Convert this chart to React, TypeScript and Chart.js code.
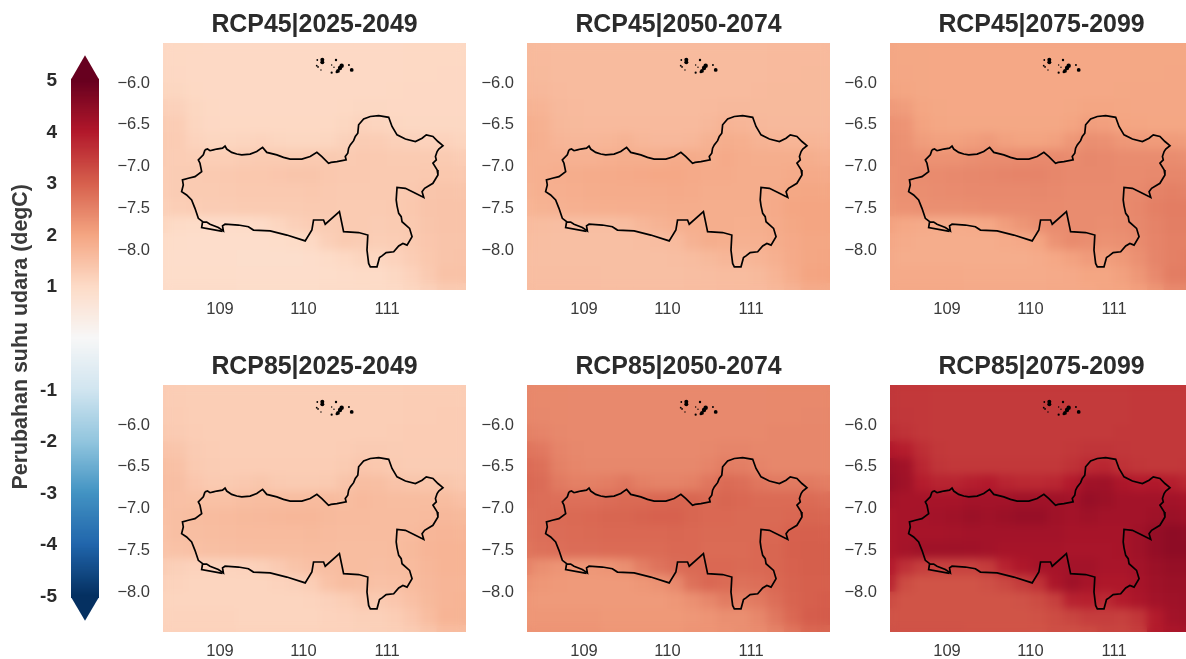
import { useEffect, useRef } from "react";
import { Chart, registerables } from "chart.js";
Chart.register(...registerables);

const panelTitles = ["RCP45|2025-2049", "RCP45|2050-2074", "RCP45|2075-2099", "RCP85|2025-2049", "RCP85|2050-2074", "RCP85|2075-2099"];
const xTicks = [109, 110, 111];
const yTicks = [-6, -6.5, -7, -7.5, -8];
const barTicks = [-5, -4, -3, -2, -1, 1, 2, 3, 4, 5];
const barTitle = "Perubahan suhu udara (degC)";
const rdbu = ["#053061", "#2166ac", "#4393c3", "#92c5de", "#d1e5f0", "#f7f7f7", "#fddbc7", "#f4a582", "#d6604d", "#b2182b", "#67001f"];

const gridLons = [108.3, 108.5, 108.7, 108.9, 109.1, 109.3, 109.5, 109.7, 109.9, 110.1, 110.3, 110.5, 110.7, 110.9, 111.1, 111.3, 111.5, 111.7, 111.9];
const gridLats = [-5.5, -5.7, -5.9, -6.1, -6.3, -6.5, -6.7, -6.9, -7.1, -7.3, -7.5, -7.7, -7.9, -8.1, -8.3, -8.5];

// change in hundredths of a degree, one row per latitude
const rcp45a = [
[105,104,104,103,103,103,103,103,103,103,103,103,103,103,103,104,104,104,104],
[105,104,103,103,103,103,103,103,103,103,103,103,103,103,103,104,104,104,104],
[106,105,103,103,103,103,103,103,103,103,103,103,103,103,103,104,104,105,105],
[110,108,104,103,103,103,103,103,103,103,103,103,103,103,104,105,105,105,105],
[120,118,108,104,103,103,103,103,103,103,103,104,106,106,105,105,105,105,105],
[128,126,110,105,104,104,104,104,104,104,104,108,114,112,108,106,106,106,106],
[130,127,114,110,110,112,115,110,108,108,110,118,128,126,120,118,116,116,112],
[128,126,124,124,124,128,130,130,130,132,132,130,134,132,130,130,130,130,126],
[126,128,130,132,134,136,136,138,140,140,136,134,134,132,132,132,134,136,134],
[124,128,130,130,132,134,134,134,134,136,134,132,132,132,132,134,140,142,140],
[120,124,126,128,128,130,130,130,130,132,132,130,130,130,132,136,142,144,144],
[108,100,98,96,96,98,100,110,120,126,128,130,130,128,130,134,140,144,144],
[98,94,92,92,92,92,92,94,98,104,122,130,128,124,126,132,138,142,142],
[94,92,92,92,92,90,90,90,90,92,98,104,112,110,116,126,136,142,144],
[94,94,94,94,94,92,92,92,92,92,94,96,100,100,106,116,132,146,146],
[96,96,96,96,96,94,94,94,94,94,96,96,98,100,102,108,118,130,130],
];
const rcp45b = [
[162,161,160,160,160,160,160,160,160,160,160,160,160,160,160,161,161,161,161],
[162,161,160,160,160,160,160,160,160,160,160,160,160,160,160,161,161,161,161],
[163,162,160,160,160,160,160,160,160,160,160,160,160,160,160,161,161,162,162],
[166,164,161,160,160,160,160,160,160,160,160,160,160,160,161,162,162,162,162],
[174,172,163,161,160,160,160,160,160,160,160,161,163,163,162,162,162,162,162],
[182,178,165,162,161,161,161,161,161,161,161,164,172,170,164,163,163,163,163],
[184,180,170,166,166,169,174,166,164,164,166,176,184,182,174,172,171,171,168],
[180,178,177,177,177,181,184,184,184,188,188,184,190,186,184,184,184,184,180],
[177,179,183,185,187,189,190,192,194,194,190,188,188,186,186,186,188,190,188],
[175,179,181,183,185,187,187,187,188,190,188,186,186,186,186,188,195,197,195],
[171,175,177,179,181,182,183,183,184,186,186,184,184,184,186,190,198,200,200],
[160,156,154,153,153,154,156,166,174,180,182,184,184,182,184,188,195,200,200],
[156,153,152,152,152,152,152,153,155,160,176,184,182,178,180,186,192,197,197],
[154,152,152,152,152,152,152,152,152,153,156,162,168,166,172,180,190,197,199],
[154,154,154,154,154,152,152,152,152,152,153,155,158,158,162,172,187,200,201],
[155,155,155,155,155,153,153,153,153,153,155,155,157,158,160,165,174,188,188],
];
const rcp45c = [
[196,195,195,194,194,194,194,194,194,194,194,194,194,194,194,195,195,195,195],
[196,195,195,194,194,194,194,194,194,194,194,194,194,194,194,195,195,195,195],
[197,196,195,194,194,194,194,194,194,194,194,194,194,194,194,195,195,196,196],
[202,199,195,194,194,194,194,194,194,194,194,194,194,194,195,196,196,196,196],
[216,212,199,195,194,194,194,194,194,194,194,195,198,198,197,196,196,196,196],
[228,224,203,197,195,195,195,195,195,195,195,200,210,208,200,198,197,197,197],
[232,228,212,206,206,210,216,206,202,202,206,220,232,230,220,216,215,215,212],
[232,230,228,228,228,232,236,236,238,240,240,236,242,240,236,236,236,236,232],
[228,232,236,238,240,242,244,246,248,248,244,240,240,240,238,238,240,244,242],
[226,232,234,236,238,240,240,240,240,242,240,238,238,238,238,240,250,254,250],
[222,228,230,232,232,234,236,236,236,238,238,236,236,236,238,244,254,258,258],
[204,194,190,187,187,190,194,210,222,232,236,236,236,234,236,242,250,256,256],
[194,188,186,186,186,186,186,188,192,200,226,238,234,228,230,238,248,254,254],
[190,186,186,186,186,186,186,186,186,188,194,204,214,210,218,230,246,254,258],
[190,190,190,190,190,188,188,188,188,188,190,192,198,198,206,220,240,258,260],
[192,192,192,192,192,190,190,190,190,190,192,192,194,198,200,208,222,240,242],
];
const rcp85a = [
[127,126,125,125,125,125,125,125,125,125,125,125,125,125,125,126,126,126,126],
[127,126,125,125,125,125,125,125,125,125,125,125,125,125,125,126,126,126,126],
[128,127,125,125,125,125,125,125,125,125,125,125,125,125,125,126,126,127,127],
[132,129,126,125,125,125,125,125,125,125,125,125,125,125,126,127,127,127,127],
[144,140,129,126,125,125,125,125,125,125,125,126,129,129,128,127,127,127,127],
[152,148,132,128,126,126,126,126,126,126,126,130,138,136,130,128,128,128,128],
[154,151,138,132,132,135,139,132,130,130,132,142,154,152,144,140,139,139,134],
[152,150,149,149,149,153,156,156,156,159,159,156,161,158,156,156,156,156,150],
[149,152,156,158,160,162,163,165,167,167,162,160,160,158,158,158,160,164,162],
[147,152,154,156,158,160,160,160,160,162,160,158,158,158,158,160,168,170,168],
[143,147,150,152,153,155,156,156,156,158,158,156,156,156,158,162,170,172,172],
[128,120,116,114,114,116,120,131,143,150,154,156,156,154,156,160,166,172,172],
[118,114,112,112,112,112,112,114,118,124,146,156,154,148,150,158,164,170,170],
[114,112,112,112,112,111,111,111,111,113,118,125,135,132,138,150,162,170,172],
[114,114,114,114,114,112,112,112,112,112,114,116,120,120,126,138,156,172,173],
[116,116,116,116,116,114,114,114,114,114,116,116,118,120,122,128,140,155,156],
];
const rcp85b = [
[242,241,241,240,240,240,240,240,240,240,240,240,240,240,240,241,241,241,241],
[242,241,241,240,240,240,240,240,240,240,240,240,240,240,240,241,241,241,241],
[244,242,241,240,240,240,240,240,240,240,240,240,240,240,240,241,241,242,242],
[252,248,242,240,240,240,240,240,240,240,240,240,240,240,241,243,243,243,243],
[270,265,248,242,240,240,240,240,240,240,240,242,246,246,244,243,243,243,243],
[282,277,252,245,242,242,242,242,242,242,242,248,258,256,248,244,243,243,244],
[286,282,262,254,254,258,266,254,250,250,254,268,284,280,268,262,262,262,256],
[282,280,278,278,278,282,286,286,290,292,292,286,292,288,284,284,284,284,280],
[276,280,284,286,288,292,292,296,298,298,292,288,288,286,286,286,288,292,290],
[274,280,282,284,286,288,288,288,288,290,288,286,286,286,286,288,298,300,298],
[270,276,280,282,282,284,284,284,284,288,288,284,284,284,288,292,300,302,302],
[248,232,225,221,221,224,232,256,272,282,286,288,288,286,288,292,298,302,302],
[228,220,217,216,216,216,216,220,226,240,276,288,284,276,280,288,296,300,300],
[220,216,216,216,216,216,216,216,216,220,230,244,260,254,264,280,294,300,304],
[220,220,220,220,220,218,218,218,218,218,220,224,232,232,244,266,288,304,306],
[224,224,224,224,224,220,220,220,220,220,224,224,228,232,236,250,268,288,290],
];
const rcp85c = [
[357,355,355,353,353,353,353,353,353,353,353,353,353,353,353,355,355,355,355],
[357,355,355,353,353,353,353,353,353,353,353,353,353,353,353,355,355,355,355],
[359,357,355,353,353,353,353,353,353,353,353,353,353,353,353,355,355,355,355],
[370,363,355,353,353,353,353,353,353,353,353,353,353,353,355,355,355,355,355],
[400,393,370,355,353,353,353,353,353,353,353,355,360,360,357,355,355,355,355],
[430,423,380,360,355,355,355,355,355,355,355,364,376,381,364,358,355,355,358],
[436,426,394,383,383,392,398,383,378,376,380,398,424,426,408,398,402,392,378],
[420,415,415,415,415,420,420,420,424,424,424,420,436,430,420,420,420,420,415],
[410,415,418,420,424,430,426,430,436,436,426,420,426,420,420,420,426,430,426],
[410,415,415,415,418,420,420,420,420,420,420,415,415,415,415,425,440,448,444],
[410,418,424,426,426,424,420,415,415,415,415,412,412,412,415,425,440,448,448],
[398,366,347,342,342,342,352,386,405,415,415,420,420,412,412,420,430,438,438],
[382,328,317,317,317,317,322,333,350,364,410,425,415,405,405,415,425,430,430],
[328,317,317,317,317,317,317,317,319,328,345,386,390,376,396,410,420,425,428],
[317,317,317,317,317,317,317,317,317,320,328,338,348,348,344,358,396,420,425],
[319,319,319,319,319,317,317,317,317,317,322,322,328,338,338,348,396,410,415],
];
const panelGrids = [rcp45a, rcp45b, rcp45c, rcp85a, rcp85b, rcp85c];

const coastLons = [108.82,108.85,108.88,108.92,108.96,109.03,109.06,109.08,109.14,109.20,109.26,109.36,109.44,109.51,109.56,109.68,109.76,109.84,109.98,110.08,110.16,110.22,110.30,110.33,110.40,110.51,110.50,110.53,110.54,110.56,110.60,110.62,110.65,110.66,110.72,110.80,110.90,111.02,111.06,111.12,111.22,111.34,111.42,111.47,111.55,111.61,111.67,111.62,111.60,111.58,111.59,111.55,111.60,111.61,111.55,111.45,111.42,111.44,111.34,111.22,111.12,111.11,111.12,111.14,111.17,111.18,111.27,111.30,111.24,111.19,111.14,111.08,110.99,110.94,110.91,110.88,110.80,110.78,110.76,110.77,110.66,110.48,110.43,110.26,110.24,110.12,110.11,110.10,110.02,109.80,109.60,109.40,109.34,109.22,109.06,109.03,109.04,108.98,108.88,108.84,108.80,108.74,108.72,108.70,108.66,108.60,108.54,108.56,108.55,108.62,108.70,108.78,108.76,108.74,108.80,108.82];
const coastLats = [-6.80,-6.79,-6.81,-6.80,-6.79,-6.78,-6.755,-6.79,-6.83,-6.85,-6.86,-6.85,-6.82,-6.77,-6.83,-6.86,-6.89,-6.91,-6.91,-6.88,-6.83,-6.88,-6.96,-6.95,-6.94,-6.92,-6.88,-6.84,-6.78,-6.74,-6.69,-6.64,-6.60,-6.50,-6.43,-6.40,-6.39,-6.41,-6.52,-6.62,-6.67,-6.70,-6.66,-6.62,-6.64,-6.70,-6.75,-6.79,-6.82,-6.88,-6.92,-6.96,-7.04,-7.10,-7.20,-7.26,-7.30,-7.37,-7.32,-7.26,-7.25,-7.40,-7.47,-7.56,-7.60,-7.66,-7.74,-7.84,-7.94,-7.92,-7.95,-8.02,-8.03,-8.07,-8.09,-8.20,-8.20,-8.16,-8.00,-7.82,-7.79,-7.78,-7.54,-7.69,-7.64,-7.64,-7.70,-7.76,-7.89,-7.82,-7.77,-7.76,-7.72,-7.70,-7.69,-7.71,-7.77,-7.73,-7.69,-7.665,-7.665,-7.62,-7.56,-7.50,-7.40,-7.34,-7.30,-7.22,-7.16,-7.14,-7.12,-7.06,-6.96,-6.92,-6.86,-6.80];
const lagoonLons = [108.79,108.78,109.03];
const lagoonLats = [-7.665,-7.73,-7.775];
const islandLons = [110.225,110.225,110.165,110.158,110.174,110.209,110.389,110.337,110.365,110.337,110.457,110.437,110.413,110.40,110.544,110.577];
const islandLats = [-5.72,-5.75,-5.724,-5.792,-5.807,-5.843,-5.724,-5.783,-5.811,-5.876,-5.792,-5.82,-5.855,-5.867,-5.783,-5.843];
const islandSizes = [2,2,0.9,0.9,0.9,0.7,1.2,0.7,0.7,1.1,2.2,2.2,1.9,1.4,1,1.9];

const fontFamily = "'Liberation Sans', Arial, sans-serif";
const ink = "#3a3a3a";
const xRange = [108.317, 111.946];
const yRange = [-8.478, -5.52];
const panelLefts = [163, 527, 890];
const panelTops = [43, 385];
const plotW = 303;
const plotH = 247;

function hexRgb(h: string) {
  return [1, 3, 5].map((i) => parseInt(h.slice(i, i + 2), 16));
}
function colourOf(v: number) {
  const t = Math.max(0, Math.min(0.99999, (v + 5) / 10)) * (rdbu.length - 1);
  const i = Math.floor(t);
  const a = hexRgb(rdbu[i]);
  const b = hexRgb(rdbu[i + 1]);
  const f = t - i;
  return `rgb(${a.map((c, k) => Math.round(c + (b[k] - c) * f)).join(",")})`;
}

const heatBlur = {
  id: "heatBlur",
  afterDatasetDraw(chart: any, args: any) {
    if (chart.data.datasets[args.index].label !== "heat") return;
    const { ctx, canvas, chartArea: a } = chart;
    const l = Math.round(a.left);
    const t = Math.round(a.top);
    const w = Math.round(a.width);
    const h = Math.round(a.height);
    ctx.save();
    ctx.beginPath();
    ctx.rect(l, t, w, h);
    ctx.clip();
    ctx.filter = "blur(4.5px)";
    ctx.drawImage(canvas, l, t, w, h, l, t, w, h);
    ctx.restore();
  },
};

function makePanel(canvas: HTMLCanvasElement, index: number) {
  const grid = panelGrids[index];
  const cells: { x: number; y: number }[] = [];
  const colours: string[] = [];
  gridLats.forEach((lat, r) =>
    gridLons.forEach((lon, c) => {
      cells.push({ x: lon, y: lat });
      colours.push(colourOf(grid[r][c] / 100));
    })
  );
  const zip = (xs: number[], ys: number[]) => xs.map((x, i) => ({ x, y: ys[i] }));
  const lineStyle = { showLine: true, borderColor: "#000", borderWidth: 1.7, pointRadius: 0, tension: 0, fill: false };
  return new Chart(canvas, {
    type: "scatter",
    data: {
      datasets: [
        { label: "coast", data: zip(coastLons, coastLats), ...lineStyle },
        { label: "lagoon", data: zip(lagoonLons, lagoonLats), ...lineStyle },
        { label: "islands", data: zip(islandLons, islandLats), pointRadius: islandSizes, pointBackgroundColor: "#000", pointBorderWidth: 0, showLine: false },
        {
          label: "heat",
          data: cells,
          showLine: false,
          pointStyle: "rect",
          pointBackgroundColor: colours,
          pointBorderWidth: 0,
          pointRadius: (ctx: any) => {
            const s = ctx.chart.scales.x;
            const side = s.getPixelForValue(gridLons[1]) - s.getPixelForValue(gridLons[0]);
            return (side + 1) / Math.SQRT2;
          },
        } as any,
      ],
    },
    options: {
      animation: false,
      responsive: false,
      events: [],
      layout: { padding: { right: 60, left: 0, top: 0, bottom: 0 } },
      plugins: {
        legend: { display: false },
        tooltip: { enabled: false },
        title: {
          display: true,
          fullSize: false,
          text: panelTitles[index],
          color: "#2b2b2b",
          font: { family: fontFamily, size: 24.9, weight: "bold", lineHeight: 1.2 },
          padding: { top: 10, bottom: 3.1 },
        },
      },
      scales: {
        x: {
          type: "linear",
          min: xRange[0],
          max: xRange[1],
          border: { display: false },
          grid: { display: false, drawTicks: false },
          afterBuildTicks: (s: any) => {
            s.ticks = xTicks.map((value) => ({ value }));
          },
          afterFit: (s: any) => {
            s.height = 50;
          },
          ticks: { color: ink, maxRotation: 0, padding: 10, font: { family: fontFamily, size: 16.5 }, callback: (v: any) => String(v) },
        },
        y: {
          type: "linear",
          min: yRange[0],
          max: yRange[1],
          border: { display: false },
          grid: { display: false, drawTicks: false },
          afterBuildTicks: (s: any) => {
            s.ticks = yTicks.map((value) => ({ value }));
          },
          afterFit: (s: any) => {
            s.width = 60;
          },
          ticks: { color: ink, padding: 13, font: { family: fontFamily, size: 16.5 }, callback: (v: any) => Number(v).toFixed(1).replace("-", "\u2212") },
        },
      },
    } as any,
    plugins: [heatBlur],
  });
}

const barArrows = {
  id: "barArrows",
  beforeDatasetsDraw(chart: any) {
    const { ctx, scales, chartArea } = chart;
    const left = chartArea.left;
    const right = chartArea.right;
    const mid = (left + right) / 2;
    const y = (v: number) => scales.y.getPixelForValue(v);
    const tri = (base: number, tip: number, fill: string) => {
      ctx.beginPath();
      ctx.moveTo(left, y(base));
      ctx.lineTo(mid, y(tip));
      ctx.lineTo(right, y(base));
      ctx.closePath();
      ctx.fillStyle = fill;
      ctx.fill();
    };
    tri(5.03, 5.5, rdbu[10]);
    tri(-5.01, -5.47, rdbu[0]);
  },
};

const barValues: number[] = [];
for (let i = 0; i < 503; i++) barValues.push(-5.02 + i * 0.02);

function makeBar(canvas: HTMLCanvasElement) {
  return new Chart(canvas, {
    type: "bar",
    data: {
      labels: ["bar"],
      datasets: barValues.map((v) => ({
        data: [[v, Math.min(5.04, v + 0.03)]] as any,
        backgroundColor: colourOf(v + 0.01),
        barPercentage: 1,
        categoryPercentage: 1,
        grouped: false,
        borderWidth: 0,
      })),
    },
    options: {
      animation: false,
      responsive: false,
      events: [],
      layout: { padding: { top: 40, bottom: 16, right: 21, left: 0 } },
      plugins: { legend: { display: false }, tooltip: { enabled: false }, title: { display: false } },
      scales: {
        x: { display: false, offset: true },
        y: {
          type: "linear",
          min: -5.719,
          max: 5.796,
          border: { display: false },
          grid: { display: false, drawTicks: false },
          afterBuildTicks: (s: any) => {
            s.ticks = barTicks.map((value) => ({ value }));
          },
          afterFit: (s: any) => {
            s.width = 71;
          },
          ticks: { color: "#2b2b2b", padding: 14, font: { family: fontFamily, size: 19, weight: "bold" }, callback: (v: any) => String(v) },
          title: { display: true, text: barTitle, color: "#3a3a3a", font: { family: fontFamily, size: 21.4, weight: "bold", lineHeight: 1.2 }, padding: { top: 8.2, bottom: 0 } },
        },
      },
    } as any,
    plugins: [barArrows],
  });
}

export default function App() {
  const barRef = useRef<HTMLCanvasElement>(null);
  const refs = useRef<(HTMLCanvasElement | null)[]>([]);
  useEffect(() => {
    const charts = refs.current.map((c, i) => makePanel(c as HTMLCanvasElement, i));
    charts.push(makeBar(barRef.current as HTMLCanvasElement));
    return () => charts.forEach((c) => c.destroy());
  }, []);
  return (
    <div style={{ position: "fixed", left: 0, top: 0, width: 1186, height: 659, overflow: "hidden", background: "#fff" }}>
      <canvas ref={barRef} width={120} height={659} style={{ position: "absolute", left: 0, top: 0, display: "block" }} />
      {panelTitles.map((t, i) => (
        <canvas
          key={t}
          ref={(el) => {
            refs.current[i] = el;
          }}
          width={plotW + 120}
          height={plotH + 93}
          style={{ position: "absolute", left: panelLefts[i % 3] - 60, top: panelTops[i < 3 ? 0 : 1] - 43, display: "block" }}
        />
      ))}
    </div>
  );
}
